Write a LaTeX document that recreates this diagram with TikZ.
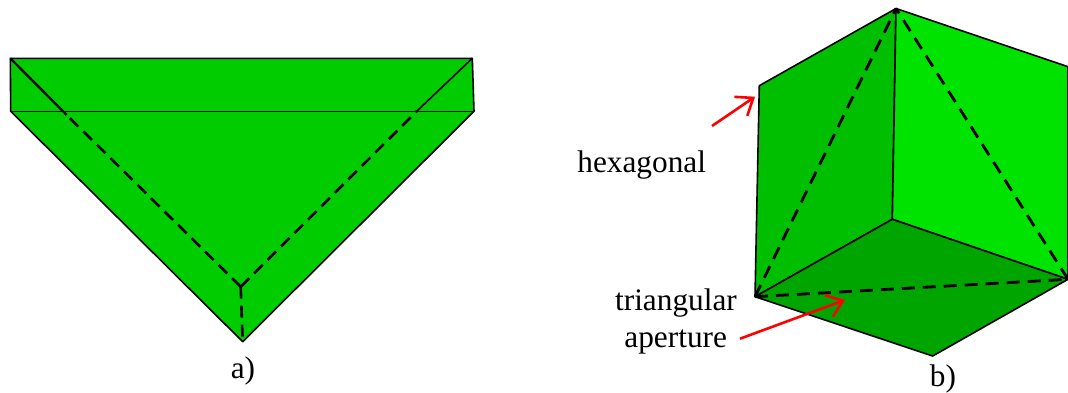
\documentclass[tikz,border=0pt]{standalone}
\usepackage{fontspec}
\setmainfont{Liberation Serif}
\usetikzlibrary{arrows.meta}
\definecolor{greenA}{RGB}{0,204,0}
\definecolor{greenL}{RGB}{0,190,0}
\definecolor{greenR}{RGB}{0,226,0}
\definecolor{greenB}{RGB}{0,165,0}
\tikzset{
  x=1pt,y=-1pt,
  edge/.style={draw=black,line width=1.6pt,line join=round},
  dasha/.style={black,line width=2.6pt,dash pattern=on 12pt off 7pt},
  dashb/.style={black,line width=2.8pt,dash pattern=on 13pt off 8pt},
  redarrow/.style={draw=red,line width=2.6pt,-{Straight Barb[length=15pt,width=23pt,line width=2.6pt]}},
  textlabel/.style={anchor=base,inner sep=0pt,font=\fontsize{31.3}{31.3}\selectfont},
}
\begin{document}
\begin{tikzpicture}
\useasboundingbox (0,0) rectangle (1068,392);
% panel a
\coordinate (TL) at (10.3,58.3);
\coordinate (TR) at (472.3,58.3);
\coordinate (LR) at (474,111.3);
\coordinate (LL) at (10.7,111.3);
\coordinate (BT) at (242.7,341.7);
\coordinate (IN) at (240.7,286.7);
\coordinate (SL) at (66.7,115);
\coordinate (SR) at (416.7,111.3);
\filldraw[edge,fill=greenA] (TL) -- (TR) -- (LR) -- (BT) -- (LL) -- cycle;
\draw[edge] (LL) -- (LR);
\draw[edge,line width=2.4pt] (TL) -- (SL);
\draw[edge] (TR) -- (SR);
\draw[dasha] (IN) -- (SL);
\draw[dasha] (IN) -- (SR);
\draw[dasha] (IN) -- (BT);
\node[textlabel] (la) at (243,378) {a)};
% panel b
\coordinate (T) at (896,8.5);
\coordinate (UL) at (759.3,85.7);
\coordinate (DL) at (755,296.7);
\coordinate (C) at (892.3,219.3);
\coordinate (UR) at (1068,66.7);
\coordinate (DR) at (1068,279.3);
\coordinate (B) at (932.7,356);
\filldraw[edge,fill=greenL] (T) -- (UL) -- (DL) -- (C) -- cycle;
\filldraw[edge,fill=greenR] (T) -- (UR) -- (DR) -- (C) -- cycle;
\filldraw[edge,fill=greenB] (C) -- (DR) -- (B) -- (DL) -- cycle;
\draw[dashb] (DL) -- (T);
\draw[dashb] (DR) -- (T);
\draw[dashb] (DL) -- (DR);
\node[textlabel] (hex) at (641.7,172) {hexagonal};
\node[textlabel] (tri) at (676,310.7) {triangular};
\node[textlabel] (ape) at (675.7,347) {aperture};
\node[textlabel] (lb) at (943,386.7) {b)};
\coordinate (hs) at (712,126);
\coordinate (he) at (755,96.7);
\coordinate (ts) at (740,338.7);
\coordinate (te) at (845,300);
\draw[redarrow] (hs) -- (he);
\draw[redarrow] (ts) -- (te);
\end{tikzpicture}
\end{document}
